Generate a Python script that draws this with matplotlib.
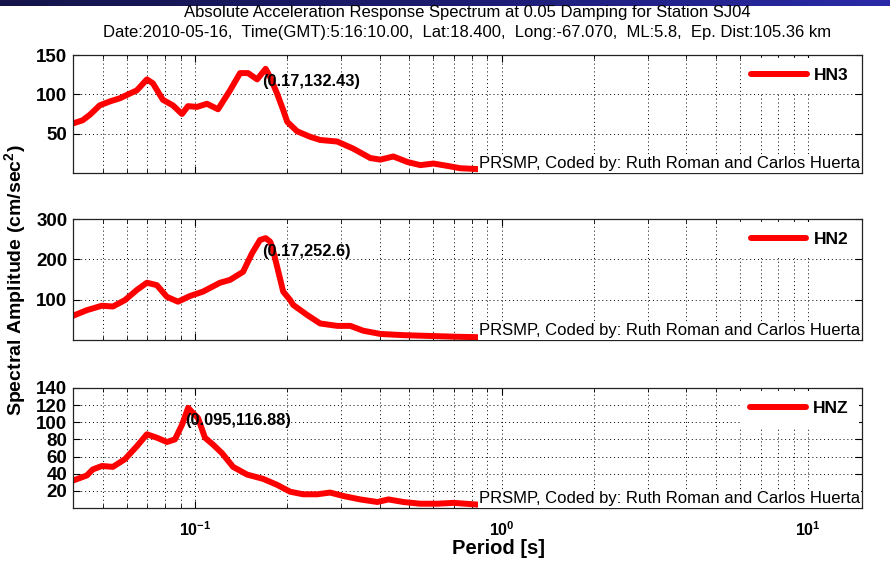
import numpy as np
import matplotlib
matplotlib.use('Agg')
import matplotlib.pyplot as plt
from matplotlib.ticker import NullFormatter, FixedLocator
from matplotlib.colors import LinearSegmentedColormap

plt.rcParams['font.family'] = ['Liberation Sans', 'DejaVu Sans']
plt.rcParams['mathtext.fontset'] = 'custom'
plt.rcParams['mathtext.rm'] = 'Liberation Sans'
plt.rcParams['mathtext.bf'] = 'Liberation Sans:bold'

# ---------------- texts ----------------
title1 = 'Absolute Acceleration Response Spectrum at 0.05 Damping for Station SJ04'
title2 = ('Date:2010-05-16,  Time(GMT):5:16:10.00,  Lat:18.400,  Long:-67.070,  '
          'ML:5.8,  Ep. Dist:105.36 km')
ylabel_text = 'Spectral Amplitude (cm/sec$^\\mathbf{2}$)'
xlabel_text = 'Period [s]'
credit_text = 'PRSMP, Coded by: Ruth Roman and Carlos Huerta'
components = ['HN3', 'HN2', 'HNZ']

# ---------------- data ----------------
period_hn3 = [0.040, 0.043, 0.0454, 0.0489, 0.0528, 0.0569, 0.0613, 0.0646, 0.0697,
              0.0729, 0.0786, 0.0847, 0.0907, 0.0949, 0.1015, 0.1094, 0.1189, 0.1301,
              0.1403, 0.1490, 0.1595, 0.17, 0.1758, 0.1853, 0.1940, 0.2000, 0.2154,
              0.2376, 0.2560, 0.2911, 0.3282, 0.3733, 0.4027, 0.4436, 0.4932, 0.5433,
              0.5997, 0.6668, 0.7347, 0.84]
amp_hn3 = [63, 67, 74, 86, 91, 95, 101, 105, 119,
           114, 93, 86, 75, 85, 84, 88, 81, 105,
           127, 127, 119, 132.43, 122, 101, 80, 65, 53,
           46, 42, 40, 31, 19, 17, 21, 14, 10,
           12, 9, 6, 5]

period_hn2 = [0.040, 0.0444, 0.0497, 0.0540, 0.0591, 0.0646, 0.0697, 0.0751, 0.0810,
              0.0880, 0.0963, 0.1062, 0.1207, 0.1301, 0.1435, 0.1535, 0.1630, 0.17,
              0.1758, 0.1786, 0.1853, 0.1940, 0.2044, 0.2091, 0.2323, 0.2560, 0.2911,
              0.3212, 0.3540, 0.4027, 0.4786, 0.5861, 0.7182, 0.8351]
amp_hn2 = [60, 74, 85, 83, 99, 124, 142, 136, 107,
           95, 109, 120, 142, 149, 169, 215, 248, 252.6,
           244, 231, 182, 120, 99, 87, 62, 41, 35,
           35, 23, 15, 12, 10, 8, 7]

period_hnz = [0.040, 0.0444, 0.0464, 0.0497, 0.0540, 0.0591, 0.0646, 0.0697, 0.0751,
              0.0810, 0.0860, 0.0907, 0.095, 0.0978, 0.1023, 0.1078, 0.1145, 0.1225,
              0.1331, 0.1479, 0.1668, 0.1853, 0.2044, 0.2253, 0.2505, 0.2761, 0.3047,
              0.3461, 0.3936, 0.4276, 0.4786, 0.5433, 0.6180, 0.6972, 0.8351]
amp_hnz = [32, 38, 45, 49, 48, 57, 72, 86, 82,
           77, 80, 97, 116.88, 112, 105, 82, 74, 64,
           48, 39, 34, 27, 19, 16, 16, 18, 14,
           10, 7, 10, 7, 5, 5, 6, 4]

peak_hn3 = (0.17, 132.43)
peak_hn2 = (0.17, 252.6)
peak_hnz = (0.095, 116.88)
peak_labels = ['(0.17,132.43)', '(0.17,252.6)', '(0.095,116.88)']

ymax_list = [150, 300, 140]
yticks_hn3 = [50, 100, 150]
yticks_hn2 = [100, 200, 300]
yticks_hnz = [20, 40, 60, 80, 100, 120, 140]
xtick_vals = [0.1, 1, 10]
xtick_labels = [r'$\mathbf{10^{-1}}$', r'$\mathbf{10^{0}}$', r'$\mathbf{10^{1}}$']
xlim = (0.04, 15)

# ---------------- figure ----------------
W, H = 890, 565
fig = plt.figure(figsize=(W / 100, H / 100), dpi=100)
fig.patch.set_facecolor('white')

# top dark window bar
bar = fig.add_axes([0, 1 - 6 / H, 1, 6 / H])
cmap = LinearSegmentedColormap.from_list('bar', ['#14144a', '#1c1c70', '#2a2aa8'])
bar.imshow(np.linspace(0, 1, 256)[None, :], aspect='auto', cmap=cmap,
           extent=(0, 1, 0, 1))
bar.set_axis_off()

left, right = 73 / W, 862 / W
boxes = [(55, 173), (219, 340), (388, 508)]
periods = [period_hn3, period_hn2, period_hnz]
amps = [amp_hn3, amp_hn2, amp_hnz]
peaks = [peak_hn3, peak_hn2, peak_hnz]
yticks_all = [yticks_hn3, yticks_hn2, yticks_hnz]

grid_ls = (0, (1, 3))
axes = []
for i in range(3):
    top, bot = boxes[i]
    ax = fig.add_axes([left, 1 - bot / H, right - left, (bot - top) / H])
    axes.append(ax)
    ax.set_xscale('log')
    ax.set_xlim(*xlim)
    ax.set_ylim(0, ymax_list[i])
    ax.set_yticks(yticks_all[i])
    ax.xaxis.set_major_locator(FixedLocator(xtick_vals))
    ax.xaxis.set_minor_formatter(NullFormatter())
    if i == 2:
        ax.set_xticklabels(xtick_labels)
    else:
        ax.set_xticklabels([])
    ax.tick_params(which='both', direction='in', top=True, right=True, colors='black')
    ax.tick_params(which='major', length=5, width=0.8, labelsize=13.5)
    ax.tick_params(which='minor', length=3, width=0.6)
    ax.tick_params(axis='x', which='major', pad=9, labelsize=11.5)
    ax.tick_params(axis='y', pad=4)
    for lab in ax.get_yticklabels():
        lab.set_fontweight('bold')
    ax.grid(True, which='both', axis='x', linestyle=grid_ls, color='black', lw=0.7)
    ax.grid(True, which='major', axis='y', linestyle=grid_ls, color='black', lw=0.7)
    for s in ax.spines.values():
        s.set_linewidth(0.9)
        s.set_color('#222222')

    line, = ax.plot(periods[i], amps[i], color='#ff0000', lw=4.3,
                    solid_joinstyle='round', solid_capstyle='round', zorder=2)

    ax.annotate(peak_labels[i], xy=peaks[i], xytext=(-2.5, -4), textcoords='offset points',
                ha='left', va='top', fontsize=11.8, fontweight='bold', zorder=4)

    leg = ax.legend([line], [components[i]], loc='upper right', frameon=True,
                    fancybox=False, facecolor='white', edgecolor='white', framealpha=1,
                    borderaxespad=0.15, borderpad=0.6, handlelength=3.2,
                    handletextpad=0.45, prop={'weight': 'bold', 'size': 12.5})
    leg.get_frame().set_linewidth(0)

    ax.text(0.9975, 0.015, credit_text, transform=ax.transAxes, ha='right', va='bottom',
            fontsize=12, zorder=4,
            bbox=dict(facecolor='white', edgecolor='none', pad=1.0))

# titles and labels
cx = (73 + 862) / 2 / W
fig.text(cx, 1 - 13 / H, title1, ha='center', va='center', fontsize=12)
fig.text(cx, 1 - 33 / H, title2, ha='center', va='center', fontsize=12)
fig.text(16 / W, 1 - 280 / H, ylabel_text, rotation=90, ha='center', va='center',
         fontsize=14, fontweight='bold')
fig.text(499 / W, 1 - 549 / H, xlabel_text, ha='center', va='center',
         fontsize=14.5, fontweight='bold')

fig.savefig('out.png', dpi=100, facecolor='white')
